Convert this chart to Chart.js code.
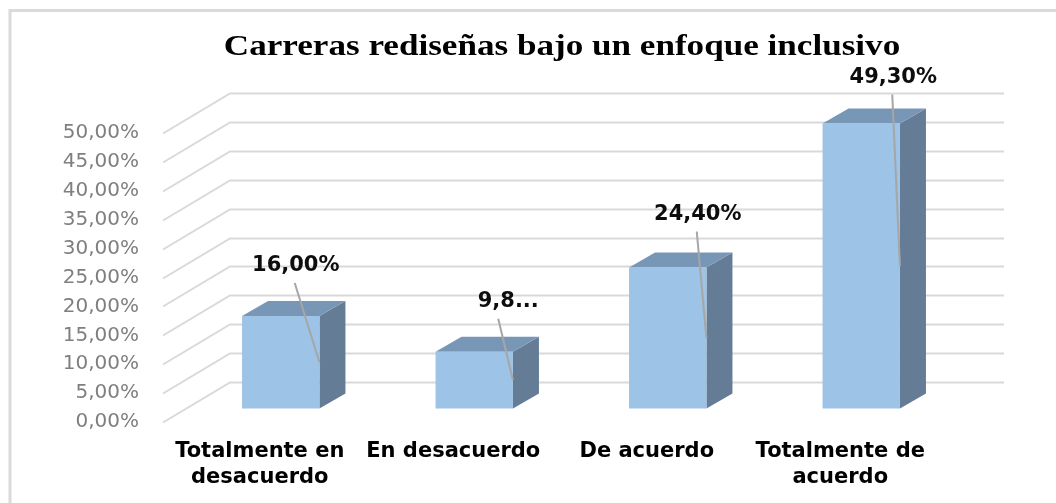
<!DOCTYPE html>
<html>
<head>
<meta charset="utf-8">
<title>Carreras rediseñas bajo un enfoque inclusivo</title>
<script src="https://cdn.jsdelivr.net/npm/chart.js@4.4.1/dist/chart.umd.min.js"></script>
<style>
  html, body { margin: 0; padding: 0; background: #fff; }
  #barChart { display: block; }
</style>
</head>
<body>
<canvas id="barChart" width="1056" height="503"></canvas>
<script>
// Chart data
const chartTitle = 'Carreras rediseñas bajo un enfoque inclusivo';
const categories = [['Totalmente en', 'desacuerdo'], 'En desacuerdo', 'De acuerdo', ['Totalmente de', 'acuerdo']];
const percentages = [16.0, 9.8, 24.4, 49.3];
const yTicks = [0, 5, 10, 15, 20, 25, 30, 35, 40, 45, 50];
const cutLabel = [false, true, false, false]; // label box too narrow, text gets cut

// Where each value label sits, relative to the top of its bar
const labelShiftX = [15, 34, 30, 32];
const labelShiftY = [50, 50, 53, 46];

// 3D look
const DEPTH_X = 67, DEPTH_Y = 40;     // floor depth (front plane -> back wall)
const BAR_OFF_X = 21, BAR_OFF_Y = 13.5; // bar front face behind the front plane
const BAR_DX = 26, BAR_DY = 15;       // bar thickness

const FRONT = '#9dc3e6', TOP = '#7896b6', SIDE = '#647c96';
const GRID = '#d9d9d9', LEADER = '#a6a6a6';

function formatPercent(v) {
    return v.toFixed(2).replace('.', ',') + '%';
}

// Frame, title and the 3D grid behind the bars
const backdrop = {
    id: 'backdrop',
    beforeDraw(chart) {
        const ctx = chart.ctx;
        ctx.save();
        ctx.fillStyle = '#fff';
        ctx.fillRect(0, 0, chart.width, chart.height);

        ctx.strokeStyle = '#dadada';
        ctx.lineWidth = 3;
        ctx.beginPath();
        ctx.moveTo(10, chart.height);
        ctx.lineTo(10, 10.5);
        ctx.lineTo(chart.width, 10.5);
        ctx.stroke();

        ctx.fillStyle = '#000';
        ctx.font = 'bold 30px "Liberation Serif"';
        ctx.textAlign = 'center';
        ctx.textBaseline = 'alphabetic';
        ctx.translate(562, 55);
        ctx.scale(1.17, 1);
        ctx.fillText(chartTitle, 0, 0);
        ctx.restore();
    },
    beforeDatasetsDraw(chart) {
        const ctx = chart.ctx;
        const area = chart.chartArea;
        const y = chart.scales.y;
        ctx.save();
        ctx.strokeStyle = GRID;
        ctx.lineWidth = 2;
        y.ticks.forEach(t => {
            const py = Math.round(y.getPixelForValue(t.value)) + 0.5;
            ctx.beginPath();
            ctx.moveTo(area.left, py);
            ctx.lineTo(area.left + DEPTH_X, py - DEPTH_Y);
            ctx.lineTo(area.right + DEPTH_X, py - DEPTH_Y);
            ctx.stroke();
        });
        ctx.restore();
    }
};

// Boxes, value labels and their leader lines
const boxes = {
    id: 'boxes',
    afterDatasetsDraw(chart) {
        const ctx = chart.ctx;
        const meta = chart.getDatasetMeta(0);
        ctx.save();
        meta.data.forEach((bar, i) => {
            const p = bar.getProps(['x', 'y', 'base', 'width'], true);
            const left = p.x - p.width / 2 + BAR_OFF_X;
            const right = p.x + p.width / 2 + BAR_OFF_X;
            const top = p.y - BAR_OFF_Y;
            const bottom = p.base - BAR_OFF_Y;

            // side
            ctx.fillStyle = SIDE;
            ctx.beginPath();
            ctx.moveTo(right, top);
            ctx.lineTo(right + BAR_DX, top - BAR_DY);
            ctx.lineTo(right + BAR_DX, bottom - BAR_DY);
            ctx.lineTo(right, bottom);
            ctx.closePath();
            ctx.fill();

            // top
            ctx.fillStyle = TOP;
            ctx.beginPath();
            ctx.moveTo(left, top);
            ctx.lineTo(left + BAR_DX, top - BAR_DY);
            ctx.lineTo(right + BAR_DX, top - BAR_DY);
            ctx.lineTo(right, top);
            ctx.closePath();
            ctx.fill();

            // front
            ctx.fillStyle = FRONT;
            ctx.fillRect(left, top, right - left, bottom - top);

            // value label
            const lx = (left + right) / 2 + labelShiftX[i];
            const ly = top - labelShiftY[i];
            let text = formatPercent(percentages[i]);
            if (cutLabel[i]) text = text.slice(0, 3) + '...';

            ctx.strokeStyle = LEADER;
            ctx.lineWidth = 2;
            ctx.beginPath();
            ctx.moveTo(lx - (cutLabel[i] ? 10 : 1), ly + 17);
            ctx.lineTo(right, (top + bottom) / 2);
            ctx.stroke();

            ctx.fillStyle = '#0d0d0d';
            ctx.font = 'bold 21px "DejaVu Sans"';
            ctx.textAlign = 'center';
            ctx.textBaseline = 'middle';
            ctx.fillText(text, lx, ly);
        });
        ctx.restore();
    }
};

document.addEventListener('DOMContentLoaded', function () {
    const ctx = document.getElementById('barChart').getContext('2d');
    new Chart(ctx, {
        type: 'bar',
        data: {
            labels: categories,
            datasets: [{
                data: percentages,
                backgroundColor: 'rgba(0, 0, 0, 0)',
                borderWidth: 0,
                barPercentage: 0.4,
                categoryPercentage: 1
            }]
        },
        options: {
            responsive: false,
            animation: false,
            layout: {
                padding: { left: 40, right: 119, top: 133, bottom: 0 }
            },
            plugins: {
                legend: { display: false },
                title: { display: false },
                tooltip: { enabled: false }
            },
            scales: {
                x: {
                    grid: { display: false, drawTicks: false },
                    border: { display: false },
                    ticks: {
                        color: '#000',
                        font: { family: 'DejaVu Sans', weight: 'bold', size: 21, lineHeight: 1.25 },
                        padding: 16,
                        maxRotation: 0,
                        autoSkip: false
                    },
                    afterFit: scale => { scale.height = 81; }
                },
                y: {
                    min: 0,
                    max: 50,
                    grid: { display: false, drawTicks: false },
                    border: { display: false },
                    afterBuildTicks: scale => { scale.ticks = yTicks.map(v => ({ value: v })); },
                    ticks: {
                        color: '#7f7f7f',
                        font: { family: 'DejaVu Sans', size: 20 },
                        padding: 24,
                        callback: v => formatPercent(v)
                    },
                    afterFit: scale => { scale.width = 123; }
                }
            }
        },
        plugins: [backdrop, boxes]
    });
});
</script>
</body>
</html>
